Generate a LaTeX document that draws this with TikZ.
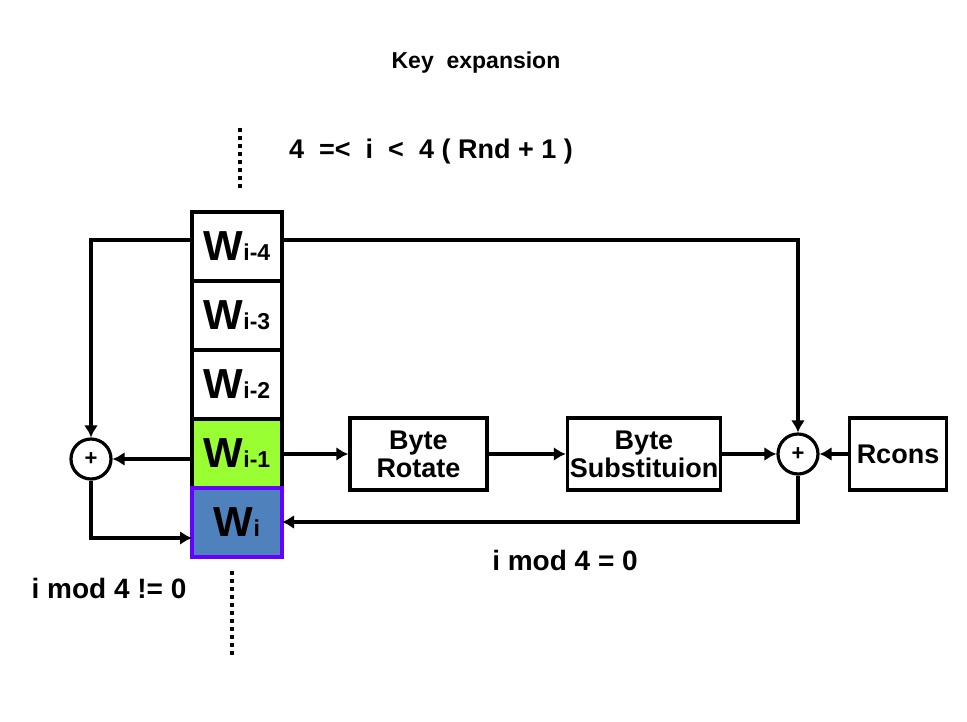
\documentclass[tikz,border=0pt]{standalone}
\usepackage{fontspec}
\setmainfont{Liberation Sans}
\usepackage{xcolor}
\usetikzlibrary{arrows.meta}
\usetikzlibrary{positioning}
\usetikzlibrary{calc}
\definecolor{wgreen}{RGB}{153,255,51}
\definecolor{wblue}{RGB}{79,129,189}
\definecolor{wpurple}{RGB}{102,0,255}
\newcommand{\wlab}[1]{{\fontsize{42}{42}\selectfont W}{\fontsize{23}{23}\selectfont #1}}
\tikzset{
  wbox/.style={draw,line width=4pt,minimum width=90pt,minimum height=69pt,inner sep=0pt,outer sep=0pt},
  opbox/.style={draw,line width=3.5pt,minimum height=72pt,inner sep=0pt,font=\fontsize{27}{28}\selectfont\bfseries,align=center},
  xorc/.style={draw,circle,line width=3.2pt,minimum size=40pt,inner sep=0pt,font=\fontsize{22}{22}\selectfont\bfseries},
  conn/.style={line width=3.4pt,-{Latex[length=12pt,width=14pt]}},
  dots/.style={line width=3.5pt,dash pattern=on 4pt off 4pt}
}
\begin{document}
\begin{tikzpicture}[x=1pt,y=-1pt,font=\bfseries]
      \useasboundingbox (0,0) rectangle (967,721);
      \node[wbox,fill=wgreen] (Wi1) at (237,453) {\wlab{i-1}};
      \node[wbox,above=0pt of Wi1] (Wi2) {\wlab{i-2}};
      \node[wbox,above=0pt of Wi2] (Wi3) {\wlab{i-3}};
      \node[wbox,above=0pt of Wi3] (Wi4) {\wlab{i-4}};
      \node[wbox,fill=wblue,draw=wpurple,below=0pt of Wi1] (Wi) {\wlab{i}};
      \node[opbox,minimum width=137pt] (rot) at (418.5,454) {Byte\\Rotate};
      \node[opbox,minimum width=153pt] (sub) at (644,454) {Byte\\Substituion};
      \node[opbox,minimum width=97pt] (rcons) at (898,454) {Rcons};
      \node[xorc] (plusL) at (91,459) {+};
      \node[xorc] (plusR) at (798,454) {+};
      \draw[conn] ($(Wi4.west)+(0,-6)$) -| (plusL.north);
      \draw[conn] (Wi1.west |- plusL) -- (plusL.east);
      \draw[conn] (plusL.south) |- ($(Wi.west)+(0,16)$);
      \draw[conn] ($(Wi4.east)+(0,-6)$) -| (plusR.north);
      \draw[conn] (Wi1.east |- rot) -- (rot.west);
      \draw[conn] (rot.east) -- (sub.west);
      \draw[conn] (sub.east) -- (plusR.west);
      \draw[conn] (rcons.west) -- (plusR.east);
      \draw[conn] (plusR.south) |- (Wi.east);
      \node (title) at (476,63) {\fontsize{23}{23}\selectfont Key\ \ expansion};
      \node (range) at (431,152) {\fontsize{27}{27}\selectfont 4\ \ =<\ \ i\ \ <\ \ 4 ( Rnd + 1 )};
      \node (modeq) at (565,560) {\fontsize{28}{28}\selectfont i mod 4 = 0};
      \node (modne) at (109,588) {\fontsize{28}{28}\selectfont i mod 4 != 0};
      \draw[dots] (240,128) -- (240,191);
      \draw[dots] (232,571) -- (232,656);
    \end{tikzpicture}
\end{document}
